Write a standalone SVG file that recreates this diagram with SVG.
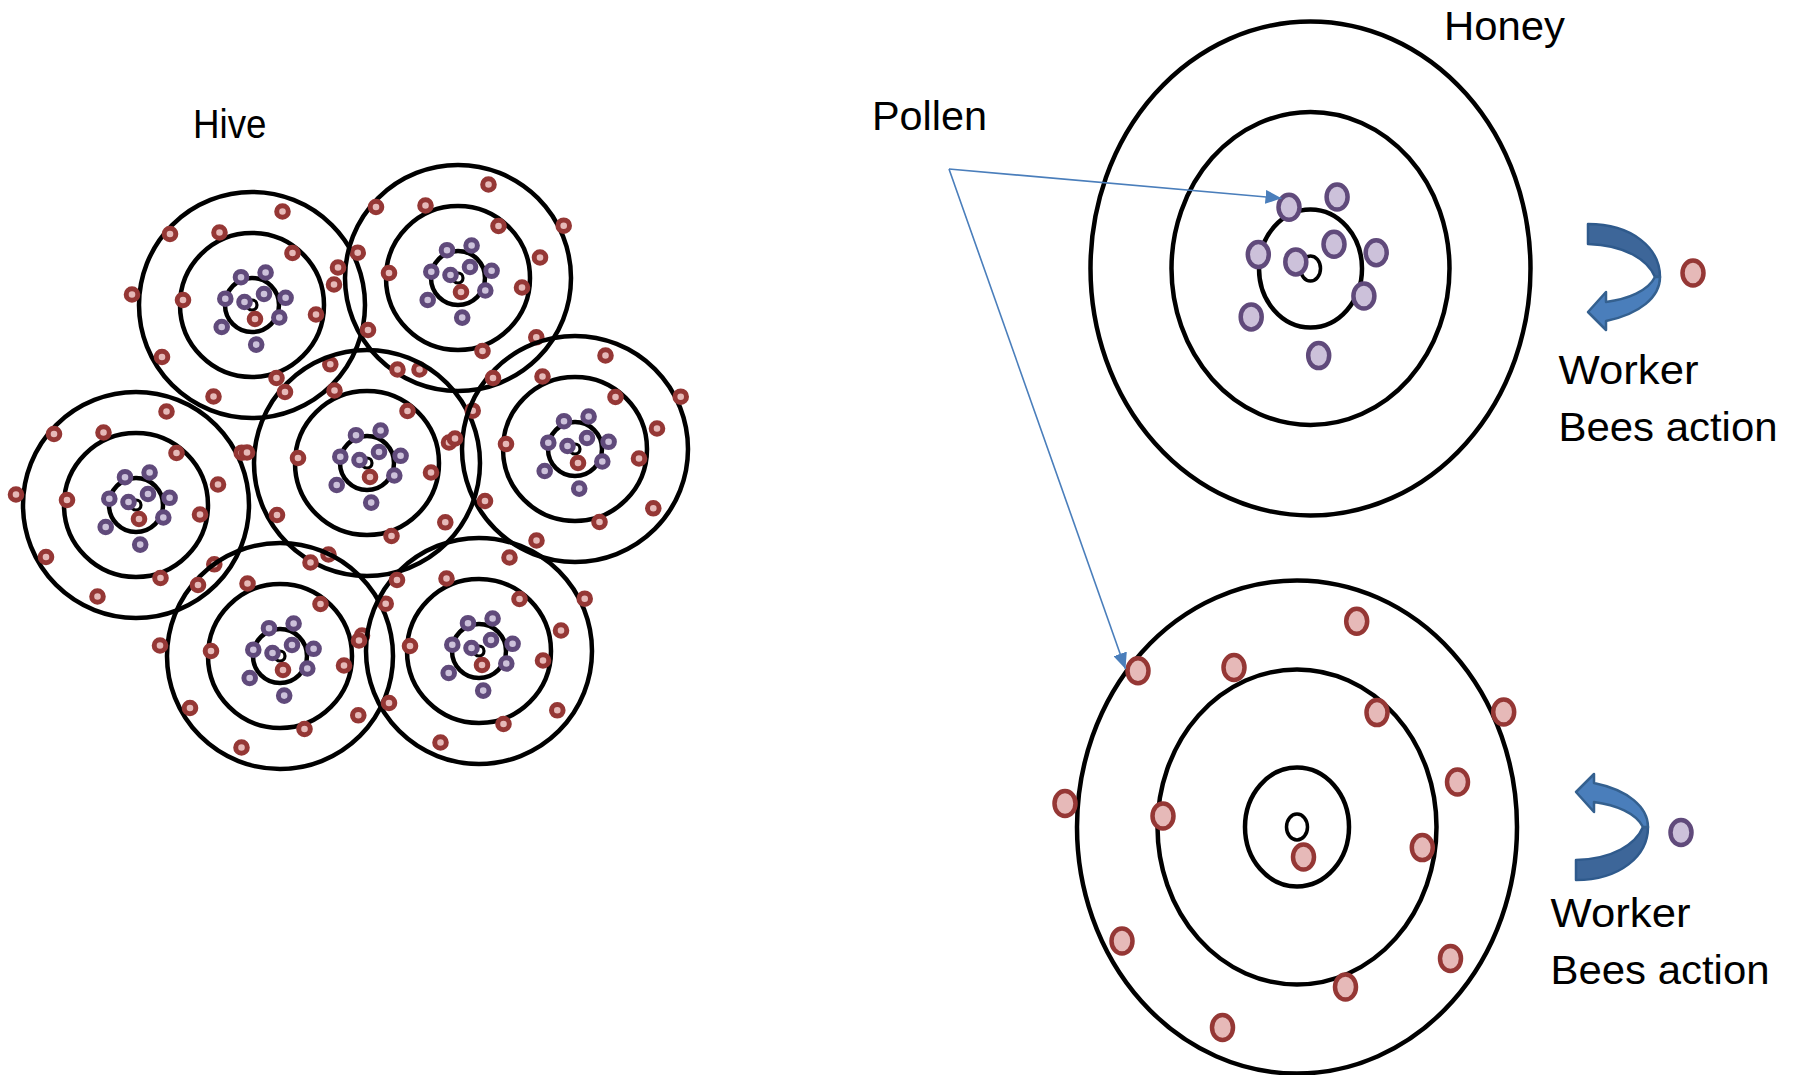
<svg xmlns="http://www.w3.org/2000/svg" xmlns:xlink="http://www.w3.org/1999/xlink" width="1798" height="1075" viewBox="0 0 1798 1075">
<style>
.ring{fill:none;stroke:#000;stroke-width:4.5}
.nuc{fill:none;stroke:#000;stroke-width:3.2}
.r{fill:#e6b9b8;stroke:#953735;stroke-width:5}
.p{fill:#ccc1da;stroke:#604a7b;stroke-width:5}
.R{fill:#e6b9b8;stroke:#953735;stroke-width:4.5}
.P{fill:#ccc1da;stroke:#604a7b;stroke-width:4.5}
.lbl{font-family:"Liberation Sans",Arial,sans-serif;font-size:40px;fill:#000}
.conn{fill:none;stroke:#4a7ebb;stroke-width:1.6}
.band1{fill:#3d6699;stroke:#2f5a8c;stroke-width:2.5;stroke-linejoin:round}
.band2{fill:#4a7ebb;stroke:#34608f;stroke-width:2.5;stroke-linejoin:round}
</style>
<defs>
<marker id="ah" viewBox="0 0 16 14" refX="16" refY="7" markerWidth="16" markerHeight="14" markerUnits="userSpaceOnUse" orient="auto"><path d="M0,0 L16,7 L0,14 Z" fill="#4a7ebb"/></marker>
<g id="atom">
<circle class="ring" r="113"/>
<circle class="ring" r="72"/>
<circle class="ring" r="27"/>
<circle class="nuc" r="5"/>
<circle class="p" cx="-11" cy="-27.8" r="5.8"/>
<circle class="p" cx="13.6" cy="-32.5" r="5.8"/>
<circle class="p" cx="-26.7" cy="-6.3" r="5.8"/>
<circle class="p" cx="-7.5" cy="-3" r="5.8"/>
<circle class="p" cx="12" cy="-11" r="5.8"/>
<circle class="p" cx="33.6" cy="-7.2" r="5.8"/>
<circle class="p" cx="27.3" cy="12.5" r="5.8"/>
<circle class="p" cx="-30.3" cy="22" r="5.8"/>
<circle class="p" cx="4.2" cy="39.6" r="5.8"/>
<circle class="r" cx="3" cy="14" r="5.8"/>
<circle class="r" cx="30.5" cy="-93.5" r="5.8"/>
<circle class="r" cx="-82" cy="-71" r="5.8"/>
<circle class="r" cx="-32.5" cy="-72.5" r="5.8"/>
<circle class="r" cx="40.5" cy="-52" r="5.8"/>
<circle class="r" cx="105.7" cy="-52.3" r="5.8"/>
<circle class="r" cx="82" cy="-20.5" r="5.8"/>
<circle class="r" cx="-120" cy="-10.5" r="5.8"/>
<circle class="r" cx="-69" cy="-5" r="5.8"/>
<circle class="r" cx="64" cy="9.5" r="5.8"/>
<circle class="r" cx="-90" cy="52" r="5.8"/>
<circle class="r" cx="78.3" cy="59.3" r="5.8"/>
<circle class="r" cx="24.5" cy="73" r="5.8"/>
<circle class="r" cx="-38.5" cy="91.5" r="5.8"/>
</g>
<g id="curl">
<path class="band1" d="M1588,224 C1632,224 1660,248 1660,277 L1655,277 C1648,260 1625,245 1588,244 Z"/>
<path class="band2" d="M1660,277 C1660,297 1640,314 1606,321 L1606,330 L1588,312 L1606,292 L1606,302 C1628,299 1648,291 1655,277 Z"/>
</g>
</defs>
<rect width="1798" height="1075" fill="#fff"/>

<g id="hive">
<g id="atom-1"><use xlink:href="#atom" href="#atom" transform="translate(252,305)"/></g>
<g id="atom-2"><use xlink:href="#atom" href="#atom" transform="translate(458,278)"/></g>
<g id="atom-3"><use xlink:href="#atom" href="#atom" transform="translate(136,505)"/></g>
<g id="atom-4"><use xlink:href="#atom" href="#atom" transform="translate(367,463)"/></g>
<g id="atom-5"><use xlink:href="#atom" href="#atom" transform="translate(575,449)"/></g>
<g id="atom-6"><use xlink:href="#atom" href="#atom" transform="translate(280,656)"/></g>
<g id="atom-7"><use xlink:href="#atom" href="#atom" transform="translate(479,651)"/></g>
</g>

<g id="honey-atom">
<ellipse class="ring" cx="1310.5" cy="268.5" rx="220" ry="247"/>
<ellipse class="ring" cx="1310.5" cy="268.5" rx="139" ry="156.5"/>
<ellipse class="ring" cx="1310.5" cy="268.5" rx="51.5" ry="59"/>
<ellipse class="nuc" cx="1310.5" cy="268.5" rx="10" ry="12.5" style="stroke-width:3.5"/>
<ellipse class="P" cx="1289" cy="207.3" rx="10.5" ry="12.5"/>
<ellipse class="P" cx="1337.1" cy="197" rx="10.5" ry="12.5"/>
<ellipse class="P" cx="1258.3" cy="254.6" rx="10.5" ry="12.5"/>
<ellipse class="P" cx="1295.8" cy="261.9" rx="10.5" ry="12.5"/>
<ellipse class="P" cx="1334" cy="244.3" rx="10.5" ry="12.5"/>
<ellipse class="P" cx="1376.2" cy="252.7" rx="10.5" ry="12.5"/>
<ellipse class="P" cx="1363.9" cy="296" rx="10.5" ry="12.5"/>
<ellipse class="P" cx="1251.2" cy="316.9" rx="10.5" ry="12.5"/>
<ellipse class="P" cx="1318.7" cy="355.6" rx="10.5" ry="12.5"/>
</g>

<g id="pollen-atom">
<ellipse class="ring" cx="1297" cy="827" rx="220" ry="246.5"/>
<ellipse class="ring" cx="1297" cy="827" rx="139.5" ry="157.5"/>
<ellipse class="ring" cx="1297" cy="827" rx="52" ry="59.5"/>
<ellipse class="nuc" cx="1297" cy="827" rx="10.5" ry="13" style="stroke-width:3.5"/>
<ellipse class="R" cx="1356.7" cy="621.3" rx="10.5" ry="12.5"/>
<ellipse class="R" cx="1138" cy="670.8" rx="10.5" ry="12.5"/>
<ellipse class="R" cx="1234" cy="667.5" rx="10.5" ry="12.5"/>
<ellipse class="R" cx="1377" cy="712.6" rx="10.5" ry="12.5"/>
<ellipse class="R" cx="1503.7" cy="712" rx="10.5" ry="12.5"/>
<ellipse class="R" cx="1457.5" cy="782" rx="10.5" ry="12.5"/>
<ellipse class="R" cx="1065" cy="803.5" rx="10.5" ry="12.5"/>
<ellipse class="R" cx="1163" cy="816" rx="10.5" ry="12.5"/>
<ellipse class="R" cx="1422.3" cy="847.6" rx="10.5" ry="12.5"/>
<ellipse class="R" cx="1122" cy="941" rx="10.5" ry="12.5"/>
<ellipse class="R" cx="1450.5" cy="958.5" rx="10.5" ry="12.5"/>
<ellipse class="R" cx="1345.5" cy="987" rx="10.5" ry="12.5"/>
<ellipse class="R" cx="1222.5" cy="1027.5" rx="10.5" ry="12.5"/>
<ellipse class="R" cx="1303.5" cy="857" rx="10.5" ry="12.5"/>
</g>

<g id="worker-action-top">
<use xlink:href="#curl" href="#curl"/>
<ellipse class="R" cx="1693" cy="273" rx="10.5" ry="12.5"/>
</g>
<g id="worker-action-bottom">
<use xlink:href="#curl" href="#curl" transform="matrix(1 0 0 -1 -12 1104)"/>
<ellipse class="P" cx="1681" cy="832.5" rx="10.5" ry="12.5"/>
</g>

<g id="connectors">
<line class="conn" x1="949" y1="169" x2="1281.5" y2="198.3" marker-end="url(#ah)"/>
<line class="conn" x1="949" y1="169" x2="1125.5" y2="669" marker-end="url(#ah)"/>
</g>

<g id="labels">
<text class="lbl" x="193" y="138" textLength="73.5" lengthAdjust="spacingAndGlyphs">Hive</text>
<text class="lbl" x="872" y="130" textLength="115" lengthAdjust="spacingAndGlyphs">Pollen</text>
<text class="lbl" x="1444" y="40" textLength="121" lengthAdjust="spacingAndGlyphs">Honey</text>
<text class="lbl" x="1558.5" y="384" textLength="140" lengthAdjust="spacingAndGlyphs">Worker</text>
<text class="lbl" x="1558.5" y="441" textLength="219" lengthAdjust="spacingAndGlyphs">Bees action</text>
<text class="lbl" x="1550.5" y="927" textLength="140" lengthAdjust="spacingAndGlyphs">Worker</text>
<text class="lbl" x="1550.5" y="984" textLength="219" lengthAdjust="spacingAndGlyphs">Bees action</text>
</g>
</svg>
